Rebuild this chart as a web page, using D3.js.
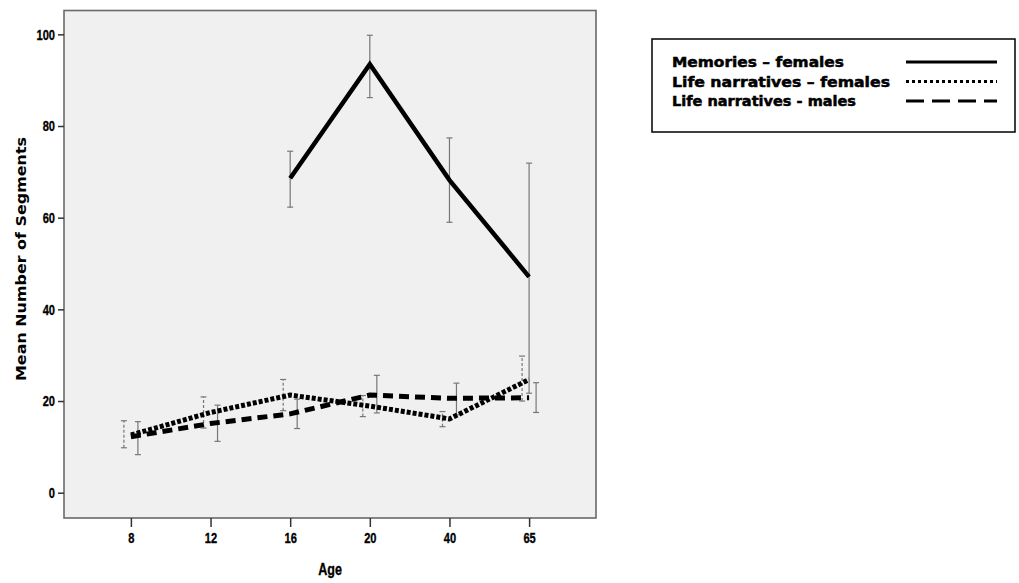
<!DOCTYPE html>
<html><head><meta charset="utf-8">
<script src="https://cdn.jsdelivr.net/npm/d3@7"></script>
<style>
body{margin:0;background:#fff;}
.tick text{font-family:'Liberation Sans','Arial',sans-serif;font-weight:bold;font-size:15px;fill:#000;stroke:#000;stroke-width:0.35px;}
</style></head>
<body>
<svg id="c" width="1019" height="583"></svg>
<script>
const ages = ["8","12","16","20","40","65"];
const memoriesF      = [null, null, 68.6, 93.5, 68.2, 47.1];
const memoriesFLow   = [null, null, 62.3, 86.2, 59.0, 21.7];
const memoriesFHigh  = [null, null, 74.5, 99.8, 77.4, 71.9];
const lifeF      = [12.6, 17.5, 21.3, 18.9, 16.1, 24.7];
const lifeFLow   = [9.8, 14.1, 17.9, 16.6, 14.4, 20.0];
const lifeFHigh  = [15.7, 20.9, 24.7, 21.2, 17.7, 29.8];
const lifeM      = [12.2, 15.1, 17.2, 21.3, 20.6, 20.7];
const lifeMLow   = [8.3, 11.2, 14.0, 17.4, 17.0, 17.5];
const lifeMHigh  = [15.5, 19.1, 20.4, 25.6, 23.9, 24.0];
const yTicks = [0, 20, 40, 60, 80, 100];
const legendLabels = ["Memories \u2013 females", "Life narratives \u2013 females", "Life narratives - males"];

const svg = d3.select("#c");
const L = 64, R = 596, T = 10.5, B = 518;
const SX = 0.74;
const x = d3.scalePoint().domain(ages).range([L, R]).padding(0.84);
const y = d3.scaleLinear().domain([-5.52, 105.2]).range([B, T]);

svg.append("rect").attr("x", L).attr("y", T).attr("width", R - L).attr("height", B - T)
  .attr("fill", "#f0f0f0").attr("stroke", "#6a6a6a").attr("stroke-width", 1.6);

const ya = svg.append("g").attr("transform", `translate(${L},0)`)
  .call(d3.axisLeft(y).tickValues(yTicks).tickSize(6).tickPadding(3).tickFormat(d3.format("d")));
ya.select(".domain").remove();
ya.selectAll(".tick line").attr("stroke", "#333").attr("stroke-width", 1.5);
ya.selectAll(".tick text").attr("x", -9 / SX).attr("transform", `scale(${SX},1)`);

const xa = svg.append("g").attr("transform", `translate(0,${B})`)
  .call(d3.axisBottom(x).tickSize(9).tickPadding(5));
xa.select(".domain").remove();
xa.selectAll(".tick line").attr("stroke", "#333").attr("stroke-width", 1.5);
xa.selectAll(".tick text").attr("transform", `scale(${SX},1)`);

// series definitions
const series = [
  {vals: memoriesF, lo: memoriesFLow, hi: memoriesFHigh, dash: null, w: 4.5, off: 0, errDash: null},
  {vals: lifeF, lo: lifeFLow, hi: lifeFHigh, dash: "4,2", w: 5, off: -7, errDash: "3,2"},
  {vals: lifeM, lo: lifeMLow, hi: lifeMHigh, dash: "10,6", w: 5, off: 7, errDash: null}
];

// error bars
series.forEach(s => {
  const g = svg.append("g");
  ages.forEach((a, i) => {
    if (s.vals[i] == null) return;
    const cx = x(a) + s.off;
    g.append("line").attr("x1", cx).attr("x2", cx).attr("y1", y(s.lo[i])).attr("y2", y(s.hi[i]))
      .attr("stroke", "#777").attr("stroke-width", 1.2).attr("stroke-dasharray", s.errDash);
    [s.lo[i], s.hi[i]].forEach(v => {
      g.append("line").attr("x1", cx - 3).attr("x2", cx + 3).attr("y1", y(v)).attr("y2", y(v))
        .attr("stroke", "#777").attr("stroke-width", 1.2);
    });
  });
});

// lines
const line = d3.line().defined(d => d.v != null).x(d => x(d.a)).y(d => y(d.v));
series.slice().reverse().forEach(s => {
  svg.append("path").datum(ages.map((a, i) => ({a, v: s.vals[i]})))
    .attr("d", line).attr("fill", "none").attr("stroke", "#000")
    .attr("stroke-width", s.w).attr("stroke-dasharray", s.dash)
    .attr("stroke-linejoin", "miter");
});

// axis titles
svg.append("text").attr("transform", `translate(330,575) scale(${SX},1)`).attr("text-anchor", "middle")
  .style("font-family", "'Liberation Sans',sans-serif")
  .style("font-weight", "bold").style("font-size", "17px")
  .attr("stroke", "#000").attr("stroke-width", 0.35)
  .text("Age");
svg.append("text").attr("transform", "translate(26,259) rotate(-90)").attr("text-anchor", "middle")
  .style("font-family", "'DejaVu Sans',sans-serif").style("font-weight", "bold").style("font-size", "14px")
  .attr("textLength", 244).attr("lengthAdjust", "spacingAndGlyphs")
  .text("Mean Number of Segments");

// legend
const lg = svg.append("g");
lg.append("rect").attr("x", 652).attr("y", 39).attr("width", 363).attr("height", 93)
  .attr("fill", "#fff").attr("stroke", "#000").attr("stroke-width", 1.5);
const lens = [172, 218, 184];
const legStyles = [{dash: null, w: 3}, {dash: "3,3", w: 3}, {dash: "18,8", w: 3}];
legendLabels.forEach((t, i) => {
  const cy = 62 + i * 19.5;
  lg.append("text").attr("x", 672).attr("y", cy + 5)
    .style("font-family", "'DejaVu Sans',sans-serif").style("font-weight", "bold").style("font-size", "14px")
    .attr("stroke", "#000").attr("stroke-width", 0.5)
    .attr("textLength", lens[i]).attr("lengthAdjust", "spacingAndGlyphs").text(t);
  lg.append("line").attr("x1", 906).attr("x2", 997).attr("y1", cy).attr("y2", cy)
    .attr("stroke", "#000").attr("stroke-width", legStyles[i].w).attr("stroke-dasharray", legStyles[i].dash);
});
</script>
</body></html>
